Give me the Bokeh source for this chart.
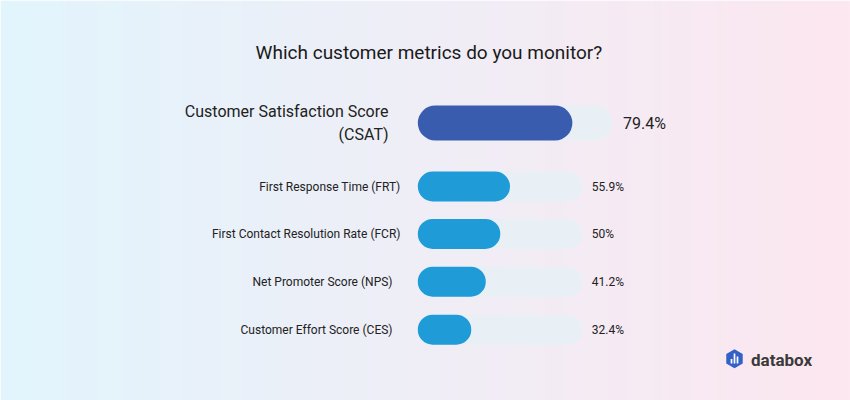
import numpy as np
from bokeh.plotting import figure
from bokeh.models import Range1d, ColumnDataSource
from bokeh.core.properties import value
from bokeh.embed import file_html
from bokeh.resources import INLINE

# ---- data ----
title_text = "Which customer metrics do you monitor?"
categories = [
    "Customer Satisfaction Score\n(CSAT)",
    "First Response Time (FRT)",
    "First Contact Resolution Rate (FCR)",
    "Net Promoter Score (NPS)",
    "Customer Effort Score (CES)",
]
values = [79.4, 55.9, 50.0, 41.2, 32.4]
value_labels = ["79.4%", "55.9%", "50%", "41.2%", "32.4%"]
brand = "databox"

# ---- layout ----
W, H = 850, 400
row_y = [122.5, 186.0, 233.4, 281.2, 329.2]
row_h = [35, 30, 30, 30, 30]
label_right = [388, 400, 400, 392, 392]
bar_x0 = 417.3           # pixel position of 0 %
px_small = 1.65          # pixels per percent, small rows
px_big = 1.947           # pixels per percent, highlighted row
FONT = value("Roboto")

p = figure(width=W, height=H, output_backend="svg", toolbar_location=None,
           x_range=Range1d(0, W), y_range=Range1d(H, 0),
           x_axis_location=None, y_axis_location=None, min_border=0,
           tools="")
p.grid.visible = False
p.outline_line_color = None
p.extra_x_ranges = {
    "small": Range1d(-bar_x0 / px_small, (W - bar_x0) / px_small),
    "big": Range1d(-bar_x0 / px_big, (W - bar_x0) / px_big),
}

# background gradient
n = 256
t = np.linspace(0, 1, n)
c0 = np.array([226, 245, 253])
c1 = np.array([253, 231, 240])
cols = (c0[None, :] * (1 - t[:, None]) + c1[None, :] * t[:, None]).astype(np.uint32)
img = np.zeros((1, n), dtype=np.uint32)
view = img.view(dtype=np.uint8).reshape((1, n, 4))
view[0, :, 0] = cols[:, 0]
view[0, :, 1] = cols[:, 1]
view[0, :, 2] = cols[:, 2]
view[0, :, 3] = 255
p.image_rgba(image=[img], x=0, y=0, dw=W, dh=H)

big = ColumnDataSource(dict(y=row_y[:1], h=row_h[:1], v=values[:1],
                            lab=value_labels[:1], cat=categories[:1],
                            xr=label_right[:1]))
small = ColumnDataSource(dict(y=row_y[1:], h=row_h[1:], v=values[1:],
                              lab=value_labels[1:], cat=categories[1:],
                              xr=label_right[1:]))

track = "#E8F0F6"
# tracks
p.hbar(y="y", left=0, right=100, height="h", source=big, x_range_name="big",
       fill_color=track, line_color=None, border_radius=18)
p.hbar(y="y", left=0, right=100, height="h", source=small, x_range_name="small",
       fill_color=track, line_color=None, border_radius=15)
# filled bars
p.hbar(y="y", left=0, right="v", height="h", source=big, x_range_name="big",
       fill_color="#3A5CAF", line_color=None, border_radius=18)
p.hbar(y="y", left=0, right="v", height="h", source=small, x_range_name="small",
       fill_color="#1F9BD7", line_color=None, border_radius=15)

# value labels
p.text(x=100, y="y", text="lab", source=big, x_range_name="big", x_offset=10.5,
       text_font=FONT, text_font_size="16px", text_color="#222222",
       text_align="left", text_baseline="middle")
p.text(x=100, y="y", text="lab", source=small, x_range_name="small", x_offset=9,
       text_font=FONT, text_font_size="12px", text_color="#222222",
       text_align="left", text_baseline="middle")

# category labels
p.text(x="xr", y="y", text="cat", source=big,
       text_font=FONT, text_font_size="16px", text_color="#222222",
       text_align="right", text_baseline="middle", text_line_height=1.17)
p.text(x="xr", y="y", text="cat", source=small,
       text_font=FONT, text_font_size="12px", text_color="#222222",
       text_align="right", text_baseline="middle")

# title
p.text(x=[428.4], y=[51.7], text=[title_text], text_font=FONT,
       text_font_size="19px", text_color="#1A1A1A", text_align="center",
       text_baseline="middle")

# logo
p.scatter(x=[734], y=[358.3], marker="hex", size=19, angle=np.pi / 2,
          fill_color="#3461C6", line_color=None)
p.segment(x0=[731, 734, 737], y0=[363, 363, 363],
          x1=[731, 734, 737], y1=[358.5, 353, 356], line_color="white",
          line_width=1.7)
p.text(x=[750.5], y=[359.5], text=[brand], text_font=FONT,
       text_font_size="17px", text_font_style="bold", text_color="#3A3A3A",
       text_align="left", text_baseline="middle")

open("out.html", "w").write(file_html(p, INLINE))
